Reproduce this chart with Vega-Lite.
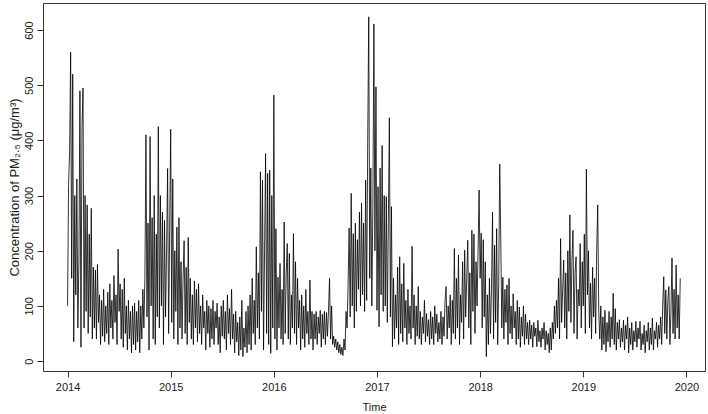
{
"$schema": "https://vega.github.io/schema/vega-lite/v6.json",
"width": 662, "height": 368,
"autosize": {"type": "none"},
"padding": {"left": 43, "top": 3, "right": 3, "bottom": 43},
"background": "white",
"config": {"view": {"stroke": "#333", "strokeWidth": 1}, "font": "Liberation Sans"},
"data": {"values": [
{"t":2014.00,"v":100},{"t":2014.01,"v":320},{"t":2014.02,"v":380},{"t":2014.03,"v":560},{"t":2014.04,"v":150},{"t":2014.05,"v":520},{"t":2014.06,"v":35},{"t":2014.07,"v":300},{"t":2014.08,"v":120},{"t":2014.09,"v":330},
{"t":2014.10,"v":60},{"t":2014.11,"v":180},{"t":2014.12,"v":490},{"t":2014.13,"v":25},{"t":2014.14,"v":425},{"t":2014.15,"v":495},{"t":2014.16,"v":60},{"t":2014.17,"v":300},{"t":2014.18,"v":90},{"t":2014.19,"v":283},
{"t":2014.20,"v":50},{"t":2014.21,"v":230},{"t":2014.22,"v":80},{"t":2014.23,"v":277},{"t":2014.24,"v":40},{"t":2014.25,"v":170},{"t":2014.26,"v":60},{"t":2014.27,"v":165},{"t":2014.28,"v":40},{"t":2014.29,"v":175},
{"t":2014.30,"v":70},{"t":2014.31,"v":120},{"t":2014.32,"v":30},{"t":2014.33,"v":110},{"t":2014.34,"v":45},{"t":2014.35,"v":130},{"t":2014.36,"v":35},{"t":2014.37,"v":100},{"t":2014.38,"v":50},{"t":2014.39,"v":125},
{"t":2014.40,"v":30},{"t":2014.41,"v":140},{"t":2014.42,"v":60},{"t":2014.43,"v":110},{"t":2014.44,"v":40},{"t":2014.45,"v":155},{"t":2014.46,"v":70},{"t":2014.47,"v":120},{"t":2014.48,"v":30},{"t":2014.49,"v":203},
{"t":2014.50,"v":90},{"t":2014.51,"v":140},{"t":2014.52,"v":40},{"t":2014.53,"v":130},{"t":2014.54,"v":25},{"t":2014.55,"v":150},{"t":2014.56,"v":50},{"t":2014.57,"v":100},{"t":2014.58,"v":20},{"t":2014.59,"v":110},
{"t":2014.60,"v":40},{"t":2014.61,"v":90},{"t":2014.62,"v":15},{"t":2014.63,"v":100},{"t":2014.64,"v":30},{"t":2014.65,"v":105},{"t":2014.66,"v":20},{"t":2014.67,"v":90},{"t":2014.68,"v":35},{"t":2014.69,"v":110},
{"t":2014.70,"v":15},{"t":2014.71,"v":100},{"t":2014.72,"v":40},{"t":2014.73,"v":130},{"t":2014.74,"v":60},{"t":2014.75,"v":150},{"t":2014.76,"v":410},{"t":2014.77,"v":80},{"t":2014.78,"v":250},{"t":2014.79,"v":20},
{"t":2014.80,"v":407},{"t":2014.81,"v":100},{"t":2014.82,"v":260},{"t":2014.83,"v":40},{"t":2014.84,"v":300},{"t":2014.85,"v":30},{"t":2014.86,"v":230},{"t":2014.87,"v":80},{"t":2014.88,"v":425},{"t":2014.89,"v":60},
{"t":2014.90,"v":300},{"t":2014.91,"v":100},{"t":2014.92,"v":270},{"t":2014.93,"v":30},{"t":2014.94,"v":255},{"t":2014.95,"v":80},{"t":2014.96,"v":200},{"t":2014.97,"v":349},{"t":2014.98,"v":50},{"t":2014.99,"v":240},
{"t":2015.00,"v":420},{"t":2015.01,"v":70},{"t":2015.02,"v":330},{"t":2015.03,"v":40},{"t":2015.04,"v":200},{"t":2015.05,"v":90},{"t":2015.06,"v":243},{"t":2015.07,"v":30},{"t":2015.08,"v":260},{"t":2015.09,"v":60},
{"t":2015.10,"v":180},{"t":2015.11,"v":40},{"t":2015.12,"v":150},{"t":2015.13,"v":218},{"t":2015.14,"v":50},{"t":2015.15,"v":170},{"t":2015.16,"v":30},{"t":2015.17,"v":224},{"t":2015.18,"v":70},{"t":2015.19,"v":150},
{"t":2015.20,"v":40},{"t":2015.21,"v":120},{"t":2015.22,"v":30},{"t":2015.23,"v":145},{"t":2015.24,"v":60},{"t":2015.25,"v":130},{"t":2015.26,"v":35},{"t":2015.27,"v":140},{"t":2015.28,"v":50},{"t":2015.29,"v":100},
{"t":2015.30,"v":30},{"t":2015.31,"v":120},{"t":2015.32,"v":60},{"t":2015.33,"v":90},{"t":2015.34,"v":20},{"t":2015.35,"v":110},{"t":2015.36,"v":50},{"t":2015.37,"v":100},{"t":2015.38,"v":25},{"t":2015.39,"v":95},
{"t":2015.40,"v":40},{"t":2015.41,"v":110},{"t":2015.42,"v":30},{"t":2015.43,"v":90},{"t":2015.44,"v":60},{"t":2015.45,"v":105},{"t":2015.46,"v":30},{"t":2015.47,"v":80},{"t":2015.48,"v":15},{"t":2015.49,"v":100},
{"t":2015.50,"v":45},{"t":2015.51,"v":110},{"t":2015.52,"v":40},{"t":2015.53,"v":90},{"t":2015.54,"v":20},{"t":2015.55,"v":120},{"t":2015.56,"v":50},{"t":2015.57,"v":95},{"t":2015.58,"v":30},{"t":2015.59,"v":130},
{"t":2015.60,"v":40},{"t":2015.61,"v":85},{"t":2015.62,"v":15},{"t":2015.63,"v":90},{"t":2015.64,"v":35},{"t":2015.65,"v":70},{"t":2015.66,"v":10},{"t":2015.67,"v":80},{"t":2015.68,"v":20},{"t":2015.69,"v":110},
{"t":2015.70,"v":8},{"t":2015.71,"v":60},{"t":2015.72,"v":25},{"t":2015.73,"v":90},{"t":2015.74,"v":15},{"t":2015.75,"v":100},{"t":2015.76,"v":30},{"t":2015.77,"v":120},{"t":2015.78,"v":20},{"t":2015.79,"v":150},
{"t":2015.80,"v":50},{"t":2015.81,"v":110},{"t":2015.82,"v":30},{"t":2015.83,"v":207},{"t":2015.84,"v":60},{"t":2015.85,"v":160},{"t":2015.86,"v":40},{"t":2015.87,"v":343},{"t":2015.88,"v":90},{"t":2015.89,"v":328},
{"t":2015.90,"v":20},{"t":2015.91,"v":200},{"t":2015.92,"v":376},{"t":2015.93,"v":50},{"t":2015.94,"v":340},{"t":2015.95,"v":30},{"t":2015.96,"v":346},{"t":2015.97,"v":14},{"t":2015.98,"v":300},{"t":2015.99,"v":60},
{"t":2016.00,"v":482},{"t":2016.01,"v":40},{"t":2016.02,"v":240},{"t":2016.03,"v":20},{"t":2016.04,"v":152},{"t":2016.05,"v":60},{"t":2016.06,"v":177},{"t":2016.07,"v":40},{"t":2016.08,"v":130},{"t":2016.09,"v":30},
{"t":2016.10,"v":252},{"t":2016.11,"v":50},{"t":2016.12,"v":160},{"t":2016.13,"v":213},{"t":2016.14,"v":40},{"t":2016.15,"v":195},{"t":2016.16,"v":30},{"t":2016.17,"v":120},{"t":2016.18,"v":60},{"t":2016.19,"v":231},
{"t":2016.20,"v":50},{"t":2016.21,"v":180},{"t":2016.22,"v":30},{"t":2016.23,"v":150},{"t":2016.24,"v":60},{"t":2016.25,"v":110},{"t":2016.26,"v":20},{"t":2016.27,"v":120},{"t":2016.28,"v":40},{"t":2016.29,"v":100},
{"t":2016.30,"v":25},{"t":2016.31,"v":130},{"t":2016.32,"v":50},{"t":2016.33,"v":90},{"t":2016.34,"v":30},{"t":2016.35,"v":147},{"t":2016.36,"v":40},{"t":2016.37,"v":90},{"t":2016.38,"v":20},{"t":2016.39,"v":85},
{"t":2016.40,"v":40},{"t":2016.41,"v":90},{"t":2016.42,"v":30},{"t":2016.43,"v":80},{"t":2016.44,"v":50},{"t":2016.45,"v":92},{"t":2016.46,"v":25},{"t":2016.47,"v":85},{"t":2016.48,"v":40},{"t":2016.49,"v":90},
{"t":2016.50,"v":30},{"t":2016.51,"v":88},{"t":2016.52,"v":45},{"t":2016.53,"v":92},{"t":2016.54,"v":150},{"t":2016.55,"v":40},{"t":2016.56,"v":100},{"t":2016.57,"v":30},{"t":2016.58,"v":45},{"t":2016.59,"v":25},
{"t":2016.60,"v":40},{"t":2016.61,"v":20},{"t":2016.62,"v":35},{"t":2016.63,"v":15},{"t":2016.64,"v":30},{"t":2016.65,"v":12},{"t":2016.66,"v":25},{"t":2016.67,"v":10},{"t":2016.68,"v":40},{"t":2016.69,"v":20},
{"t":2016.70,"v":90},{"t":2016.71,"v":60},{"t":2016.72,"v":140},{"t":2016.73,"v":241},{"t":2016.74,"v":80},{"t":2016.75,"v":304},{"t":2016.76,"v":100},{"t":2016.77,"v":231},{"t":2016.78,"v":60},{"t":2016.79,"v":250},
{"t":2016.80,"v":90},{"t":2016.81,"v":220},{"t":2016.82,"v":130},{"t":2016.83,"v":270},{"t":2016.84,"v":100},{"t":2016.85,"v":286},{"t":2016.86,"v":120},{"t":2016.87,"v":250},{"t":2016.88,"v":90},{"t":2016.89,"v":328},
{"t":2016.90,"v":110},{"t":2016.91,"v":400},{"t":2016.92,"v":624},{"t":2016.93,"v":150},{"t":2016.94,"v":350},{"t":2016.95,"v":100},{"t":2016.96,"v":280},{"t":2016.97,"v":611},{"t":2016.98,"v":200},{"t":2016.99,"v":497},
{"t":2017.00,"v":92},{"t":2017.01,"v":316},{"t":2017.02,"v":62},{"t":2017.03,"v":350},{"t":2017.04,"v":120},{"t":2017.05,"v":391},{"t":2017.06,"v":90},{"t":2017.07,"v":300},{"t":2017.08,"v":100},{"t":2017.09,"v":298},
{"t":2017.10,"v":70},{"t":2017.11,"v":250},{"t":2017.12,"v":441},{"t":2017.13,"v":80},{"t":2017.14,"v":280},{"t":2017.15,"v":26},{"t":2017.16,"v":150},{"t":2017.17,"v":40},{"t":2017.18,"v":120},{"t":2017.19,"v":60},
{"t":2017.20,"v":170},{"t":2017.21,"v":30},{"t":2017.22,"v":189},{"t":2017.23,"v":50},{"t":2017.24,"v":140},{"t":2017.25,"v":35},{"t":2017.26,"v":177},{"t":2017.27,"v":60},{"t":2017.28,"v":110},{"t":2017.29,"v":30},
{"t":2017.30,"v":130},{"t":2017.31,"v":50},{"t":2017.32,"v":100},{"t":2017.33,"v":40},{"t":2017.34,"v":208},{"t":2017.35,"v":60},{"t":2017.36,"v":120},{"t":2017.37,"v":30},{"t":2017.38,"v":100},{"t":2017.39,"v":45},
{"t":2017.40,"v":135},{"t":2017.41,"v":40},{"t":2017.42,"v":90},{"t":2017.43,"v":30},{"t":2017.44,"v":80},{"t":2017.45,"v":50},{"t":2017.46,"v":110},{"t":2017.47,"v":35},{"t":2017.48,"v":86},{"t":2017.49,"v":45},
{"t":2017.50,"v":75},{"t":2017.51,"v":30},{"t":2017.52,"v":90},{"t":2017.53,"v":40},{"t":2017.54,"v":80},{"t":2017.55,"v":30},{"t":2017.56,"v":100},{"t":2017.57,"v":50},{"t":2017.58,"v":85},{"t":2017.59,"v":35},
{"t":2017.60,"v":70},{"t":2017.61,"v":40},{"t":2017.62,"v":90},{"t":2017.63,"v":30},{"t":2017.64,"v":80},{"t":2017.65,"v":45},{"t":2017.66,"v":110},{"t":2017.67,"v":135},{"t":2017.68,"v":40},{"t":2017.69,"v":100},
{"t":2017.70,"v":60},{"t":2017.71,"v":120},{"t":2017.72,"v":30},{"t":2017.73,"v":110},{"t":2017.74,"v":50},{"t":2017.75,"v":204},{"t":2017.76,"v":40},{"t":2017.77,"v":150},{"t":2017.78,"v":60},{"t":2017.79,"v":192},
{"t":2017.80,"v":30},{"t":2017.81,"v":120},{"t":2017.82,"v":70},{"t":2017.83,"v":180},{"t":2017.84,"v":40},{"t":2017.85,"v":201},{"t":2017.86,"v":80},{"t":2017.87,"v":150},{"t":2017.88,"v":219},{"t":2017.89,"v":60},
{"t":2017.90,"v":160},{"t":2017.91,"v":30},{"t":2017.92,"v":237},{"t":2017.93,"v":90},{"t":2017.94,"v":230},{"t":2017.95,"v":50},{"t":2017.96,"v":180},{"t":2017.97,"v":100},{"t":2017.98,"v":200},{"t":2017.99,"v":310},
{"t":2018.00,"v":150},{"t":2018.01,"v":232},{"t":2018.02,"v":60},{"t":2018.03,"v":220},{"t":2018.04,"v":80},{"t":2018.05,"v":180},{"t":2018.06,"v":8},{"t":2018.07,"v":120},{"t":2018.08,"v":30},{"t":2018.09,"v":150},
{"t":2018.10,"v":50},{"t":2018.11,"v":130},{"t":2018.12,"v":270},{"t":2018.13,"v":40},{"t":2018.14,"v":210},{"t":2018.15,"v":70},{"t":2018.16,"v":240},{"t":2018.17,"v":30},{"t":2018.18,"v":140},{"t":2018.19,"v":357},
{"t":2018.20,"v":220},{"t":2018.21,"v":60},{"t":2018.22,"v":152},{"t":2018.23,"v":40},{"t":2018.24,"v":130},{"t":2018.25,"v":70},{"t":2018.26,"v":138},{"t":2018.27,"v":30},{"t":2018.28,"v":150},{"t":2018.29,"v":50},
{"t":2018.30,"v":100},{"t":2018.31,"v":40},{"t":2018.32,"v":122},{"t":2018.33,"v":60},{"t":2018.34,"v":90},{"t":2018.35,"v":30},{"t":2018.36,"v":110},{"t":2018.37,"v":40},{"t":2018.38,"v":98},{"t":2018.39,"v":25},
{"t":2018.40,"v":80},{"t":2018.41,"v":45},{"t":2018.42,"v":100},{"t":2018.43,"v":30},{"t":2018.44,"v":85},{"t":2018.45,"v":40},{"t":2018.46,"v":70},{"t":2018.47,"v":30},{"t":2018.48,"v":74},{"t":2018.49,"v":40},
{"t":2018.50,"v":65},{"t":2018.51,"v":25},{"t":2018.52,"v":70},{"t":2018.53,"v":45},{"t":2018.54,"v":60},{"t":2018.55,"v":26},{"t":2018.56,"v":74},{"t":2018.57,"v":35},{"t":2018.58,"v":55},{"t":2018.59,"v":25},
{"t":2018.60,"v":60},{"t":2018.61,"v":40},{"t":2018.62,"v":70},{"t":2018.63,"v":20},{"t":2018.64,"v":55},{"t":2018.65,"v":30},{"t":2018.66,"v":50},{"t":2018.67,"v":15},{"t":2018.68,"v":60},{"t":2018.69,"v":20},
{"t":2018.70,"v":70},{"t":2018.71,"v":40},{"t":2018.72,"v":100},{"t":2018.73,"v":50},{"t":2018.74,"v":110},{"t":2018.75,"v":60},{"t":2018.76,"v":150},{"t":2018.77,"v":40},{"t":2018.78,"v":222},{"t":2018.79,"v":70},
{"t":2018.80,"v":130},{"t":2018.81,"v":183},{"t":2018.82,"v":60},{"t":2018.83,"v":160},{"t":2018.84,"v":40},{"t":2018.85,"v":200},{"t":2018.86,"v":90},{"t":2018.87,"v":265},{"t":2018.88,"v":70},{"t":2018.89,"v":180},
{"t":2018.90,"v":237},{"t":2018.91,"v":50},{"t":2018.92,"v":160},{"t":2018.93,"v":189},{"t":2018.94,"v":40},{"t":2018.95,"v":130},{"t":2018.96,"v":100},{"t":2018.97,"v":213},{"t":2018.98,"v":60},{"t":2018.99,"v":180},
{"t":2019.00,"v":100},{"t":2019.01,"v":230},{"t":2019.02,"v":50},{"t":2019.03,"v":348},{"t":2019.04,"v":120},{"t":2019.05,"v":200},{"t":2019.06,"v":60},{"t":2019.07,"v":141},{"t":2019.08,"v":40},{"t":2019.09,"v":170},
{"t":2019.10,"v":80},{"t":2019.11,"v":150},{"t":2019.12,"v":50},{"t":2019.13,"v":200},{"t":2019.14,"v":283},{"t":2019.15,"v":90},{"t":2019.16,"v":40},{"t":2019.17,"v":100},{"t":2019.18,"v":20},{"t":2019.19,"v":80},
{"t":2019.20,"v":30},{"t":2019.21,"v":92},{"t":2019.22,"v":17},{"t":2019.23,"v":70},{"t":2019.24,"v":35},{"t":2019.25,"v":90},{"t":2019.26,"v":25},{"t":2019.27,"v":80},{"t":2019.28,"v":40},{"t":2019.29,"v":123},
{"t":2019.30,"v":30},{"t":2019.31,"v":95},{"t":2019.32,"v":20},{"t":2019.33,"v":70},{"t":2019.34,"v":40},{"t":2019.35,"v":75},{"t":2019.36,"v":25},{"t":2019.37,"v":60},{"t":2019.38,"v":35},{"t":2019.39,"v":74},
{"t":2019.40,"v":20},{"t":2019.41,"v":65},{"t":2019.42,"v":40},{"t":2019.43,"v":80},{"t":2019.44,"v":15},{"t":2019.45,"v":60},{"t":2019.46,"v":30},{"t":2019.47,"v":70},{"t":2019.48,"v":20},{"t":2019.49,"v":55},
{"t":2019.50,"v":35},{"t":2019.51,"v":72},{"t":2019.52,"v":25},{"t":2019.53,"v":60},{"t":2019.54,"v":40},{"t":2019.55,"v":72},{"t":2019.56,"v":20},{"t":2019.57,"v":50},{"t":2019.58,"v":30},{"t":2019.59,"v":65},
{"t":2019.60,"v":15},{"t":2019.61,"v":55},{"t":2019.62,"v":35},{"t":2019.63,"v":70},{"t":2019.64,"v":20},{"t":2019.65,"v":60},{"t":2019.66,"v":30},{"t":2019.67,"v":78},{"t":2019.68,"v":20},{"t":2019.69,"v":55},
{"t":2019.70,"v":40},{"t":2019.71,"v":70},{"t":2019.72,"v":25},{"t":2019.73,"v":65},{"t":2019.74,"v":40},{"t":2019.75,"v":80},{"t":2019.76,"v":30},{"t":2019.77,"v":100},{"t":2019.78,"v":153},{"t":2019.79,"v":50},
{"t":2019.80,"v":129},{"t":2019.81,"v":40},{"t":2019.82,"v":110},{"t":2019.83,"v":135},{"t":2019.84,"v":30},{"t":2019.85,"v":90},{"t":2019.86,"v":187},{"t":2019.87,"v":50},{"t":2019.88,"v":130},{"t":2019.89,"v":40},
{"t":2019.90,"v":174},{"t":2019.91,"v":60},{"t":2019.92,"v":120},{"t":2019.93,"v":40},{"t":2019.94,"v":150}
]},
"mark": {"type": "line", "color": "black", "strokeWidth": 0.8, "clip": true},
"encoding": {
  "x": {"field": "t", "type": "quantitative",
    "scale": {"domain": [2013.762, 2020.18], "nice": false, "zero": false},
    "axis": {"title": "Time", "values": [2014, 2015, 2016, 2017, 2018, 2019, 2020], "format": "d",
      "grid": false, "domain": false, "tickSize": 6, "tickColor": "#333", "labelColor": "#222",
      "labelFontSize": 11, "labelPadding": 4, "labelFlush": false,
      "titleFontSize": 11, "titleFontWeight": "normal", "titleColor": "#222",
      "titleX": 331, "titleY": 36, "titleBaseline": "middle", "titleAlign": "center"}},
  "y": {"field": "v", "type": "quantitative",
    "scale": {"domain": [-18, 649], "nice": false, "zero": false},
    "axis": {"title": "Concentration of PM₂.₅ (μg/m³)", "values": [0, 100, 200, 300, 400, 500, 600],
      "grid": false, "domain": false, "tickSize": 6, "tickColor": "#333", "labelColor": "#222",
      "labelFontSize": 11, "labelAngle": -90, "labelAlign": "center", "labelBaseline": "bottom", "labelPadding": 3,
      "titleFontSize": 13, "titleFontWeight": "normal", "titleColor": "#222",
      "titleX": -29, "titleY": 184, "titleBaseline": "middle", "titleAlign": "center", "titleAngle": -90}}
}
}
